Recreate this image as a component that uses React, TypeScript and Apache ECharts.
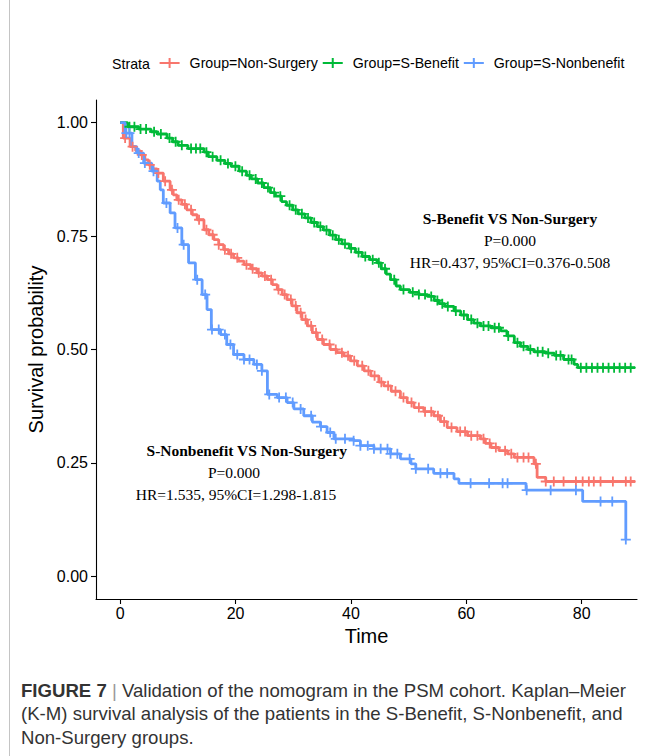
import React, { useEffect, useRef } from "react";
import * as echarts from "echarts";

const groups = ["Group=Non-Surgery", "Group=S-Benefit", "Group=S-Nonbenefit"];
const colors = ["#F8766D", "#00BA38", "#619CFF"];

// Kaplan-Meier steps: [time, survival after the step]
const nonSurgerySteps: [number, number][] = [
  [0, 1.0], [0.53, 0.966], [1.71, 0.947], [2.67, 0.938], [3.52, 0.929], [4.27, 0.918], [4.91, 0.907],
  [5.66, 0.898], [6.41, 0.889], [7.47, 0.871], [8.65, 0.852], [9.18, 0.841], [9.82, 0.83], [10.68, 0.82],
  [11.53, 0.808], [12.49, 0.797], [13.35, 0.786], [14.52, 0.764], [15.37, 0.753], [16.23, 0.742],
  [17.08, 0.731], [17.94, 0.72], [18.79, 0.711], [19.65, 0.702], [20.5, 0.695], [21.46, 0.687],
  [22.64, 0.678], [23.7, 0.669], [24.56, 0.662], [25.52, 0.654], [26.37, 0.643], [27.23, 0.632],
  [28.08, 0.621], [28.93, 0.61], [29.79, 0.596], [30.64, 0.581], [31.5, 0.566], [32.46, 0.552],
  [33.31, 0.537], [34.17, 0.522], [35.23, 0.511], [36.41, 0.5], [37.58, 0.493], [38.76, 0.486],
  [39.93, 0.475], [41.11, 0.464], [42.28, 0.453], [43.46, 0.442], [44.84, 0.428], [45.7, 0.42],
  [46.98, 0.408], [48.58, 0.394], [49.75, 0.383], [50.93, 0.372], [52.64, 0.363], [54.35, 0.354],
  [55.52, 0.341], [56.69, 0.328], [58.4, 0.319], [60.22, 0.31], [62.46, 0.303], [63.31, 0.293],
  [64.28, 0.284], [65.66, 0.277], [67.16, 0.27], [68.33, 0.262], [71.75, 0.248], [72.28, 0.218],
  [73.78, 0.209], [89.26, 0.209],
];
const sBenefitSteps: [number, number][] = [
  [0, 1.0], [1.28, 0.991], [3.2, 0.986], [5.34, 0.98], [6.41, 0.975], [8.11, 0.966], [9.08, 0.958],
  [10.04, 0.95], [11.74, 0.943], [14.52, 0.935], [15.27, 0.925], [16.76, 0.917], [18.15, 0.91],
  [19.22, 0.904], [20.61, 0.893], [21.89, 0.884], [22.74, 0.876], [23.81, 0.867], [24.88, 0.857],
  [26.05, 0.846], [26.91, 0.838], [27.97, 0.826], [28.83, 0.818], [29.9, 0.808], [30.86, 0.799],
  [32.03, 0.79], [33.1, 0.78], [34.17, 0.771], [35.23, 0.763], [36.3, 0.752], [37.37, 0.742],
  [38.44, 0.733], [39.72, 0.723], [40.79, 0.714], [41.96, 0.705], [43.24, 0.698], [44.52, 0.691],
  [45.27, 0.678], [46.12, 0.666], [46.87, 0.654], [47.83, 0.64], [48.58, 0.632], [50.18, 0.626],
  [51.78, 0.621], [53.28, 0.617], [54.45, 0.608], [55.31, 0.601], [56.27, 0.595], [57.87, 0.585],
  [59.04, 0.576], [60.22, 0.566], [61.29, 0.558], [62.46, 0.552], [64.28, 0.548], [65.98, 0.541],
  [67.05, 0.53], [68.33, 0.515], [69.4, 0.507], [70.68, 0.5], [71.75, 0.495], [73.67, 0.492],
  [75.27, 0.487], [76.87, 0.478], [78.69, 0.467], [79.33, 0.46], [89.26, 0.46],
];
const sNonbenefitSteps: [number, number][] = [
  [0, 1.0], [0.85, 0.977], [2.03, 0.947], [2.88, 0.933], [4.06, 0.911], [5.45, 0.893], [6.41, 0.871],
  [6.94, 0.852], [7.47, 0.823], [8.65, 0.801], [9.5, 0.768], [10.68, 0.731], [11.85, 0.691],
  [13.03, 0.654], [14.2, 0.621], [15.05, 0.588], [15.8, 0.544], [17.4, 0.533], [18.47, 0.511],
  [19.65, 0.489], [21.46, 0.478], [23.17, 0.467], [24.56, 0.453], [25.52, 0.401], [27.23, 0.394],
  [28.93, 0.383], [30.11, 0.369], [31.82, 0.354], [33.31, 0.34], [34.7, 0.33], [35.87, 0.317],
  [37.05, 0.303], [40.47, 0.299], [41.64, 0.288], [43.99, 0.281], [46.87, 0.27], [48.58, 0.259],
  [50.4, 0.248], [51.25, 0.237], [54.35, 0.227], [57.87, 0.215], [58.72, 0.205], [70.36, 0.19],
  [80.18, 0.165], [87.66, 0.081],
];

// Censoring times (+ marks)
const nonSurgeryCensor: number[] = [
  0.85, 2.14, 3.74, 5.12, 6.62, 7.79, 8.97, 10.14, 11.21, 12.28, 13.67, 14.95, 16.02, 17.08, 18.15,
  19.22, 20.29, 21.89, 22.96, 24.02, 25.09, 26.16, 27.44, 28.51, 29.58, 30.43, 31.28, 32.14, 33.1,
  33.95, 35.02, 36.3, 37.37, 38.44, 39.5, 40.57, 41.96, 43.03, 44.1, 45.27, 46.44, 47.73, 49.11, 50.5,
  51.78, 52.85, 53.92, 55.09, 56.16, 57.44, 58.94, 59.79, 60.86, 61.93, 62.99, 64.06, 65.13, 66.73,
  67.8, 68.87, 69.93, 70.79, 72.07, 73.78, 75.17, 76.87, 79.01, 80.18, 81.25, 82.11, 83.28, 85.42,
  87.66, 88.51,
];
const sBenefitCensor: number[] = [
  1.6, 2.46, 3.52, 4.48, 5.87, 7.05, 8.54, 9.61, 10.68, 12.28, 13.13, 13.88, 14.95, 16.02, 17.4, 18.68,
  19.97, 21.14, 22.42, 23.49, 24.56, 25.62, 26.69, 27.76, 29.36, 30.43, 31.5, 32.56, 33.63, 34.7, 35.77,
  36.84, 37.9, 38.97, 40.04, 41.32, 42.49, 43.78, 44.84, 45.91, 47.51, 49.11, 50.72, 51.78, 52.85,
  53.92, 54.99, 55.84, 56.8, 58.19, 59.58, 60.86, 61.93, 62.99, 63.85, 64.92, 65.66, 67.27, 68.87,
  69.93, 71.11, 72.39, 73.24, 74.21, 75.59, 76.34, 77.73, 78.26, 79.86, 80.82, 81.79, 82.75, 83.71,
  84.67, 85.63, 86.59, 87.55, 88.51,
];
const sNonbenefitCensor: number[] = [
  1.07, 1.6, 3.2, 4.27, 5.77, 8.01, 9.93, 11, 13.35, 14.73, 15.91, 17.08, 18.15, 19.11, 20.29, 21.46,
  22.42, 23.7, 24.56, 25.84, 27.55, 28.72, 29.9, 31.28, 33.1, 34.81, 36.41, 37.37, 38.97, 40.47, 41.64,
  42.92, 43.99, 45.16, 46.34, 46.87, 48.05, 50.18, 51.25, 53.39, 55.52, 56.69, 60.75, 63.96, 66.3,
  67.16, 70.47, 74.63, 79.01, 83.28, 85.31, 87.66,
];

const xTicks = [0, 20, 40, 60, 80];
const yTicks = [0, 0.25, 0.5, 0.75, 1];

const annotation1 = ["S-Benefit VS Non-Surgery", "P=0.000", "HR=0.437, 95%CI=0.376-0.508"];
const annotation2 = ["S-Nonbenefit VS Non-Surgery", "P=0.000", "HR=1.535, 95%CI=1.298-1.815"];
const captionLines = [
  "{b|FIGURE 7} {p||} Validation of the nomogram in the PSM cohort. Kaplan–Meier",
  "(K-M) survival analysis of the patients in the S-Benefit, S-Nonbenefit, and",
  "Non-Surgery groups.",
];

const allSteps = [nonSurgerySteps, sBenefitSteps, sNonbenefitSteps];
const allCensor = [nonSurgeryCensor, sBenefitCensor, sNonbenefitCensor];

function survAt(steps: [number, number][], t: number): number {
  let v = steps[0][1];
  for (const [st, sv] of steps) {
    if (st <= t) v = sv;
    else break;
  }
  return v;
}

const plusSymbol = "path://M0,4.1h10v1.8H0z M4.1,0h1.8v10h-1.8z";
const legendIcon = "path://M0,4h20v2H0z M9,0h2v10h-2z";

const SANS = "Liberation Sans";
const SERIF = "Liberation Serif";

export default function App() {
  const ref = useRef<HTMLDivElement>(null);
  useEffect(() => {
    if (!ref.current) return;
    const chart = echarts.init(ref.current, undefined, { renderer: "svg" });

    const lineSeries = groups.map((g, i) => ({
      name: g,
      type: "line",
      step: "end",
      data: allSteps[i],
      showSymbol: false,
      symbol: "none",
      color: colors[i],
      lineStyle: { color: colors[i], width: 2.8 },
      itemStyle: { color: colors[i] },
      z: 2 + i,
    }));
    const censorSeries = groups.map((g, i) => ({
      name: g + " censor",
      type: "scatter",
      data: allCensor[i].map((t) => [t, survAt(allSteps[i], t)]),
      symbol: plusSymbol,
      symbolSize: 10,
      itemStyle: { color: colors[i], opacity: 1 },
      z: 6 + i,
    }));

    const lineH = 22;
    const graphic: any[] = [
      { type: "line", shape: { x1: 9.5, y1: 0, x2: 9.5, y2: 756 }, style: { stroke: "#c4c4c4", lineWidth: 1 } },
      {
        type: "text", x: 112, y: 64,
        style: { text: "Strata", fontFamily: SANS, fontSize: 14.2, fill: "#000", textAlign: "left", textVerticalAlign: "middle" },
      },
    ];
    annotation1.forEach((t, k) => {
      graphic.push({
        type: "text", x: 510, y: 218 + k * lineH,
        style: {
          text: t, fontFamily: SERIF, fontSize: 15.5, fontWeight: k === 0 ? "bold" : "normal",
          fill: "#000", textAlign: "center", textVerticalAlign: "middle",
        },
      });
    });
    const a2x = [246.7, 234, 236];
    annotation2.forEach((t, k) => {
      graphic.push({
        type: "text", x: a2x[k], y: 450 + k * lineH,
        style: {
          text: t, fontFamily: SERIF, fontSize: 15.5, fontWeight: k === 0 ? "bold" : "normal",
          fill: "#000", textAlign: "center", textVerticalAlign: "middle",
        },
      });
    });
    captionLines.forEach((t, k) => {
      graphic.push({
        type: "text", x: 21, y: 690 + k * 23.5,
        style: {
          text: t, fontFamily: SANS, fontSize: 18.6, fill: "#333", textAlign: "left", textVerticalAlign: "middle",
          rich: {
            b: { fontFamily: SANS, fontSize: 18.6, fontWeight: "bold", fill: "#333", color: "#333" },
            p: { fontFamily: SANS, fontSize: 18.6, fill: "#999", color: "#999" },
          },
        },
      });
    });

    chart.setOption({
      animation: false,
      backgroundColor: "#fff",
      grid: { left: 96, right: 17, top: 100, bottom: 157, containLabel: false },
      legend: {
        data: groups.map((g) => ({ name: g, icon: legendIcon })),
        left: 159.6,
        top: 56,
        orient: "horizontal",
        itemWidth: 20,
        itemHeight: 10,
        itemGap: 5,
        padding: 0,
        selectedMode: false,
        textStyle: { fontFamily: SANS, fontSize: 14.2, color: "#000", padding: [0, 0, 0, 5] },
      },
      xAxis: {
        type: "value",
        min: -4.2,
        max: 89.6,
        name: "Time",
        nameLocation: "middle",
        nameGap: 26,
        nameTextStyle: { fontFamily: SANS, fontSize: 20, color: "#000" },
        axisLine: { show: true, onZero: false, lineStyle: { color: "#000", width: 1.1 } },
        axisTick: { show: true, length: 5, customValues: xTicks, lineStyle: { color: "#000", width: 1.1 } },
        axisLabel: { customValues: xTicks, fontFamily: SANS, fontSize: 16, color: "#000", margin: 6 },
        splitLine: { show: false },
      },
      yAxis: {
        type: "value",
        min: -0.05,
        max: 1.05,
        name: "Survival probability",
        nameLocation: "middle",
        nameGap: 41,
        nameTextStyle: { fontFamily: SANS, fontSize: 20, color: "#000" },
        axisLine: { show: true, onZero: false, lineStyle: { color: "#000", width: 1.1 } },
        axisTick: { show: true, length: 5, customValues: yTicks, lineStyle: { color: "#000", width: 1.1 } },
        axisLabel: {
          customValues: yTicks, fontFamily: SANS, fontSize: 16, color: "#000", margin: 8,
          formatter: (v: number) => v.toFixed(2),
        },
        splitLine: { show: false },
      },
      series: [...lineSeries, ...censorSeries],
      graphic,
    });
    return () => chart.dispose();
  }, []);
  return (
    <div
      ref={ref}
      style={{ position: "absolute", left: 0, top: 0, width: 654, height: 756 }}
    />
  );
}
